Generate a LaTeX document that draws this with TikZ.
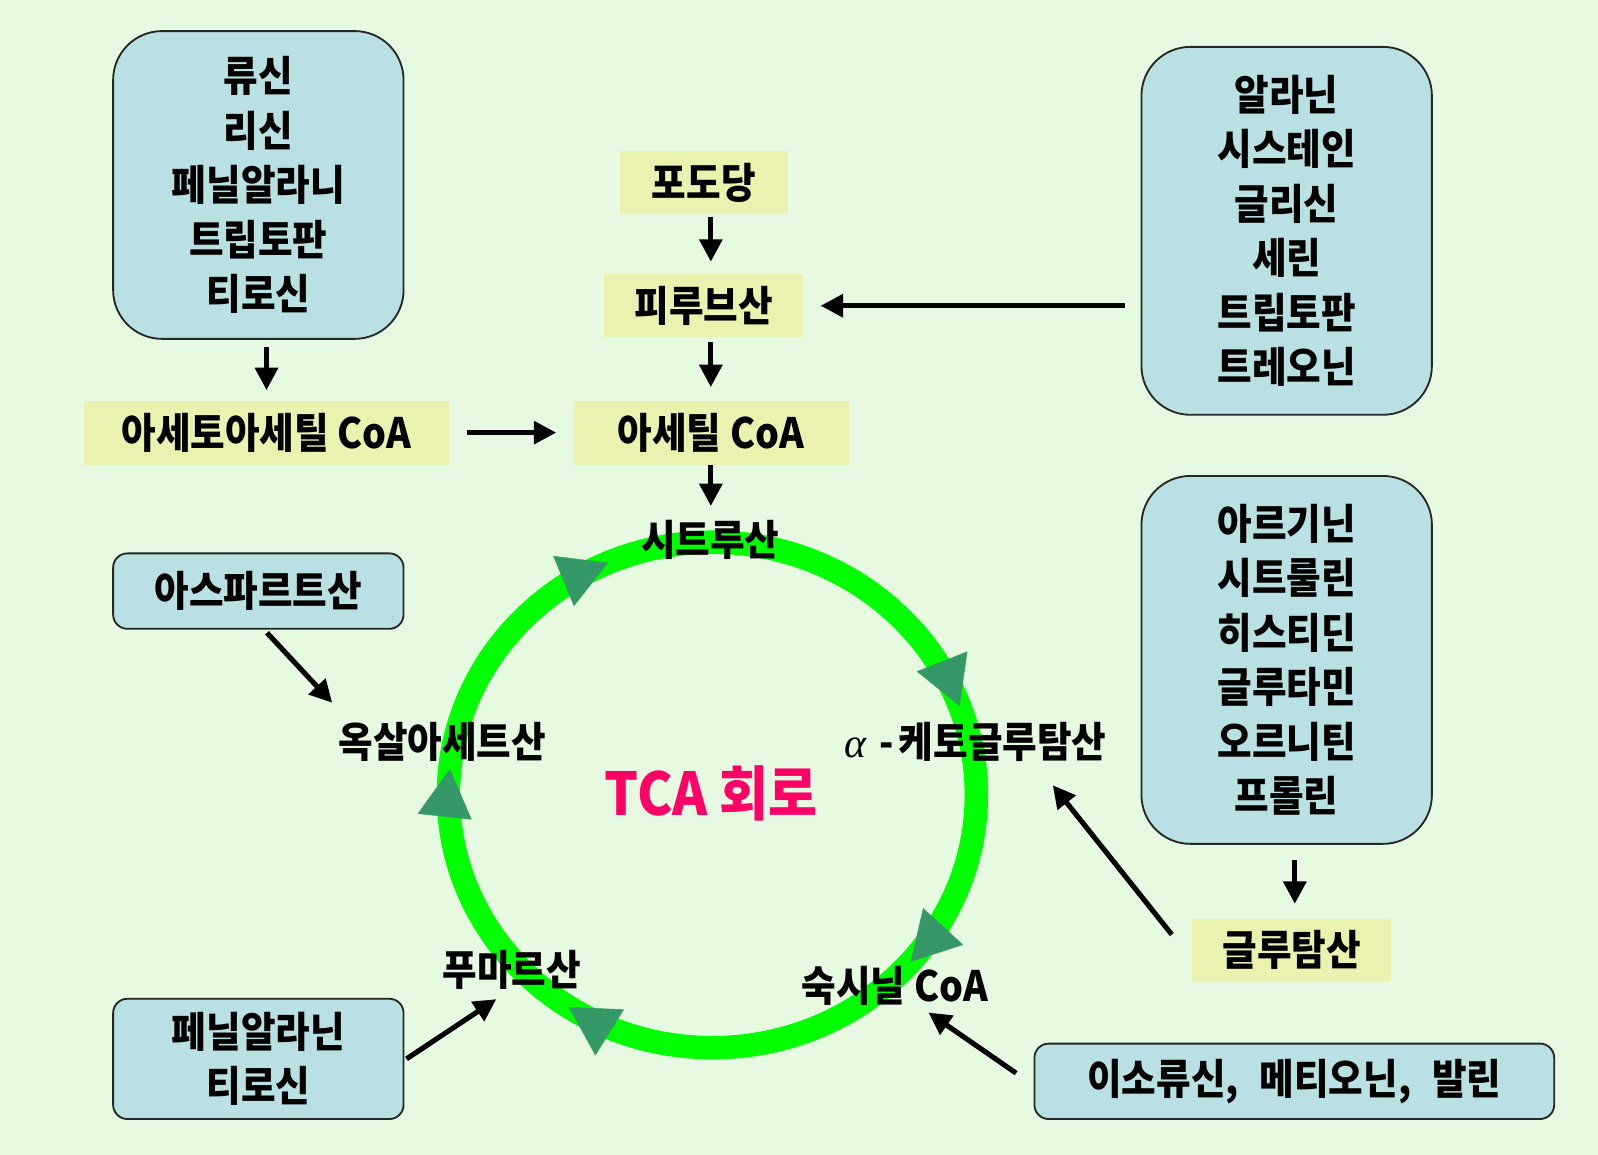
\documentclass[tikz,border=0pt]{standalone}
\usepackage{fontspec}
\setmainfont{Noto Sans CJK KR}[FakeStretch=0.9]
\newfontfamily\grkfont{Liberation Serif}
\usetikzlibrary{arrows.meta,decorations.markings}
\definecolor{bgc}{RGB}{230,249,225}
\definecolor{boxblue}{RGB}{185,224,227}
\definecolor{boxyellow}{RGB}{235,242,176}
\definecolor{ringgreen}{RGB}{0,255,0}
\definecolor{tipgreen}{RGB}{52,153,102}
\definecolor{tcapink}{RGB}{255,0,102}
\tikzset{
  lbl/.style={inner sep=0pt, align=center, font=\bfseries\fontsize{41}{53.5}\selectfont},
  bigbox/.style={lbl, draw=black!85, line width=1.8pt, fill=boxblue, rounded corners=48pt},
  smallbox/.style={lbl, draw=black!85, line width=1.8pt, fill=boxblue, rounded corners=14pt},
  ybox/.style={lbl, fill=boxyellow},
  arr/.style={line width=5pt, -{Triangle[length=22pt,width=22pt]}},
  ring/.style={line width=23pt, ringgreen},
  tipT/.tip={Triangle[length=47pt,width=53pt,color=tipgreen,fill=tipgreen]}
}
\begin{document}
\begin{tikzpicture}[x=1pt,y=-1pt]
\path[fill=bgc] (0,0) rectangle (1568,1133);
\useasboundingbox (0,0) rectangle (1568,1133);

% TCA ring
\draw[ring] (958,780) arc[start angle=0, end angle=-360, x radius=259pt, y radius=248pt];
\path[tipgreen, line width=0.3pt, decorate, decoration={markings,
   mark=at position 0.113 with {\arrow{tipT}},
   mark=at position 0.343 with {\arrow{tipT}},
   mark=at position 0.516 with {\arrow{tipT}},
   mark=at position 0.684 with {\arrow{tipT}},
   mark=at position 0.944 with {\arrow{tipT}}}]
   (958,780) arc[start angle=0, end angle=-360, x radius=259pt, y radius=248pt];

% boxes
\node[bigbox, minimum width=285pt, minimum height=302pt] (lbox) at (253.5,181.5) {류신\\리신\\페닐알라니\\트립토판\\티로신};
\node[ybox, minimum width=359pt, minimum height=63pt] (aceto) at (261.5,424.5) {아세토아세틸 CoA};
\node[ybox, minimum width=271pt, minimum height=63pt] (acetyl) at (697.5,424.5) {아세틸 CoA};
\node[ybox, minimum width=165pt, minimum height=62pt] (gluc) at (690.5,179) {포도당};
\node[ybox, minimum width=195pt, minimum height=62pt] (pyr) at (690.5,300) {피루브산};
\node[bigbox, minimum width=285pt, minimum height=361pt] (rbox) at (1262.5,226.5) {알라닌\\시스테인\\글리신\\세린\\트립토판\\트레오닌};
\node[bigbox, minimum width=285pt, minimum height=361pt] (rbox2) at (1262.5,647.5) {아르기닌\\시트룰린\\히스티딘\\글루타민\\오르니틴\\프롤린};
\node[ybox, minimum width=195pt, minimum height=61pt] (glu) at (1267.5,932.5) {글루탐산};
\node[smallbox, minimum width=285pt, minimum height=74pt] (asp) at (253.5,580) {아스파르트산};
\node[smallbox, minimum width=285pt, minimum height=118pt] (phe) at (253.5,1039) {페닐알라닌\\티로신};
\node[smallbox, minimum width=510pt, minimum height=74pt] (ile) at (1270,1061) {이소류신,\hspace{0.5em}메티오닌,\hspace{0.5em}발린};

% cycle labels
\node[lbl] (cit) at (697,530) {시트루산};
\node[lbl] (akg) at (957,728) {{\grkfont\mdseries\itshape α}\hspace{0.32em}-\hspace{0.12em}케토글루탐산};
\node[lbl] (oaa) at (434,728) {옥살아세트산};
\node[lbl] (fum) at (502,952) {푸마르산};
\node[lbl] (suc) at (878,967) {숙시닐 CoA};
\node[inner sep=0pt, text=tcapink, font=\bfseries\fontsize{58}{60}\selectfont] (tca) at (698,778) {TCA 회로};

% connectors
\draw[arr, shorten <=3pt, shorten >=12pt] (acetyl.north |- gluc.south) -- (acetyl.north |- pyr.north);
\draw[arr, shorten <=4pt, shorten >=13pt] (acetyl.north |- pyr.south) -- (acetyl.north);
\draw[arr, shorten <=0pt, shorten >=14pt] (acetyl.south) -- (acetyl.south |- cit.north);
\draw[arr, shorten <=17pt, shorten >=16pt] (aceto.east) -- (acetyl.west |- aceto.east);
\draw[arr, shorten <=15pt, shorten >=17pt] (rbox.west |- pyr.east) -- (pyr.east);
\draw[arr, shorten <=7pt, shorten >=10pt] (aceto.north |- lbox.south) -- (aceto.north);
\draw[arr, shorten <=15pt, shorten >=15pt] ([xshift=3pt]glu.north |- rbox2.south) -- ([xshift=3pt]glu.north);
\draw[arr] ([xshift=-20pt,yshift=15.5pt]glu.west) -- ([xshift=76pt,yshift=-23pt]akg.south);
\draw[arr] ([xshift=8.5pt,yshift=-3pt]asp.south) -- ([xshift=-6pt,yshift=19pt]oaa.north west);
\draw[arr] ([xshift=2pt]phe.east) -- ([xshift=-15pt,yshift=-9pt]fum.south);
\draw[arr] ([xshift=-17pt,yshift=8pt]ile.west) -- ([xshift=33pt,yshift=-7pt]suc.south);
\end{tikzpicture}
\end{document}
